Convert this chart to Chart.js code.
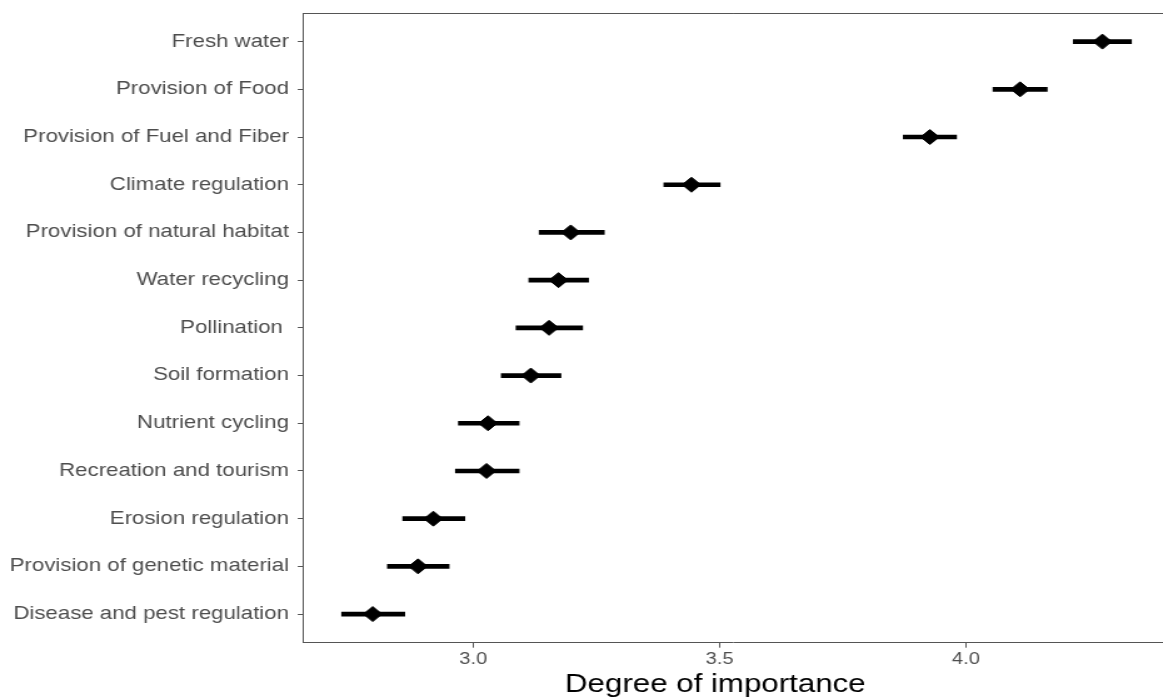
<!DOCTYPE html>
<html lang="en">
<head>
    <meta charset="UTF-8">
    <title>Degree of importance</title>
    <script src="https://cdn.jsdelivr.net/npm/chart.js"></script>
    <style>
        body {
            margin: 0;
            padding: 0;
            background: white;
            overflow: hidden;
        }
        /* the source figure is stretched sideways, so the chart is too */
        #wrap {
            width: 930px;
            height: 698px;
            transform: scaleX(1.2505);
            transform-origin: 0 0;
        }
    </style>
</head>
<body>
    <div id="wrap">
        <canvas id="dotChart"></canvas>
    </div>

    <script>
        // Data
        const services = ["Fresh water", "Provision of Food", "Provision of Fuel and Fiber", "Climate regulation",
            "Provision of natural habitat", "Water recycling", "Pollination ", "Soil formation", "Nutrient cycling",
            "Recreation and tourism", "Erosion regulation", "Provision of genetic material", "Disease and pest regulation"];
        const meanScore = [4.277, 4.110, 3.927, 3.443, 3.198, 3.173, 3.154, 3.117, 3.030, 3.027, 2.919, 2.888, 2.796];
        const lowerCI = [4.218, 4.055, 3.873, 3.387, 3.134, 3.113, 3.087, 3.057, 2.970, 2.964, 2.857, 2.826, 2.733];
        const upperCI = [4.336, 4.165, 3.981, 3.501, 3.266, 3.234, 3.222, 3.178, 3.093, 3.093, 2.983, 2.951, 2.861];
        const xTicks = [3.0, 3.5, 4.0];
        const xTitle = "Degree of importance";

        const axisGrey = '#555555';
        const labelFont = { family: '"Liberation Sans", Arial, sans-serif', size: 17.8 };

        // top border of the panel + x title
        const framePlugin = {
            id: 'frame',
            afterDraw(chart) {
                const { ctx, chartArea: a } = chart;
                ctx.save();
                ctx.strokeStyle = axisGrey;
                ctx.lineWidth = 1;
                ctx.beginPath();
                ctx.moveTo(a.left, a.top + 0.5);
                ctx.lineTo(a.right, a.top + 0.5);
                ctx.stroke();
                ctx.fillStyle = '#000';
                ctx.font = '25px "Liberation Sans", Arial, sans-serif';
                ctx.textAlign = 'center';
                ctx.textBaseline = 'alphabetic';
                ctx.fillText(xTitle, 572, 692);
                ctx.restore();
            }
        };

        new Chart(document.getElementById('dotChart'), {
            data: {
                datasets: [{
                    type: 'scatter',
                    order: 0,
                    data: services.map((s, i) => ({ x: meanScore[i], y: i })),
                    pointStyle: 'rectRot',
                    pointRadius: 7.5,
                    pointBorderWidth: 1,
                    backgroundColor: '#000',
                    borderColor: '#000',
                    xAxisID: 'x',
                    yAxisID: 'y'
                }, {
                    type: 'bar',
                    order: 1,
                    indexAxis: 'y',
                    data: services.map((s, i) => ({ x: [lowerCI[i], upperCI[i]], y: i })),
                    backgroundColor: '#000',
                    barThickness: 4,
                    borderSkipped: false,
                    xAxisID: 'x',
                    yAxisID: 'y'
                }]
            },
            options: {
                responsive: true,
                maintainAspectRatio: false,
                animation: false,
                layout: { autoPadding: false, padding: { top: 13, right: 0, bottom: 0, left: 0 } },
                plugins: {
                    legend: { display: false },
                    tooltip: { enabled: false }
                },
                scales: {
                    x: {
                        type: 'linear',
                        min: 2.654,
                        max: 4.4,
                        offset: false,
                        afterBuildTicks: axis => { axis.ticks = xTicks.map(v => ({ value: v })); },
                        afterFit: axis => {
                            axis.height = 55.3;
                            axis.paddingLeft = 0;
                            axis.paddingRight = 0;
                        },
                        ticks: {
                            callback: v => Number(v).toFixed(1),
                            color: '#4d4d4d',
                            font: { family: labelFont.family, size: 16 },
                            padding: 2,
                            maxRotation: 0
                        },
                        grid: { drawOnChartArea: false, drawTicks: true, tickLength: 5, color: axisGrey, offset: false },
                        border: { display: true, color: axisGrey }
                    },
                    y: {
                        type: 'linear',
                        min: -0.6,
                        max: 12.6,
                        reverse: true,
                        offset: false,
                        afterBuildTicks: axis => { axis.ticks = services.map((s, i) => ({ value: i })); },
                        afterFit: axis => {
                            axis.width = 242.1;
                            axis.paddingTop = 0;
                            axis.paddingBottom = 0;
                        },
                        ticks: {
                            callback: v => services[v],
                            color: '#4d4d4d',
                            font: labelFont,
                            padding: 7,
                            autoSkip: false
                        },
                        grid: { drawOnChartArea: false, drawTicks: true, tickLength: 4, color: axisGrey, offset: false },
                        border: { display: true, color: axisGrey }
                    }
                }
            },
            plugins: [framePlugin]
        });
    </script>
</body>
</html>
